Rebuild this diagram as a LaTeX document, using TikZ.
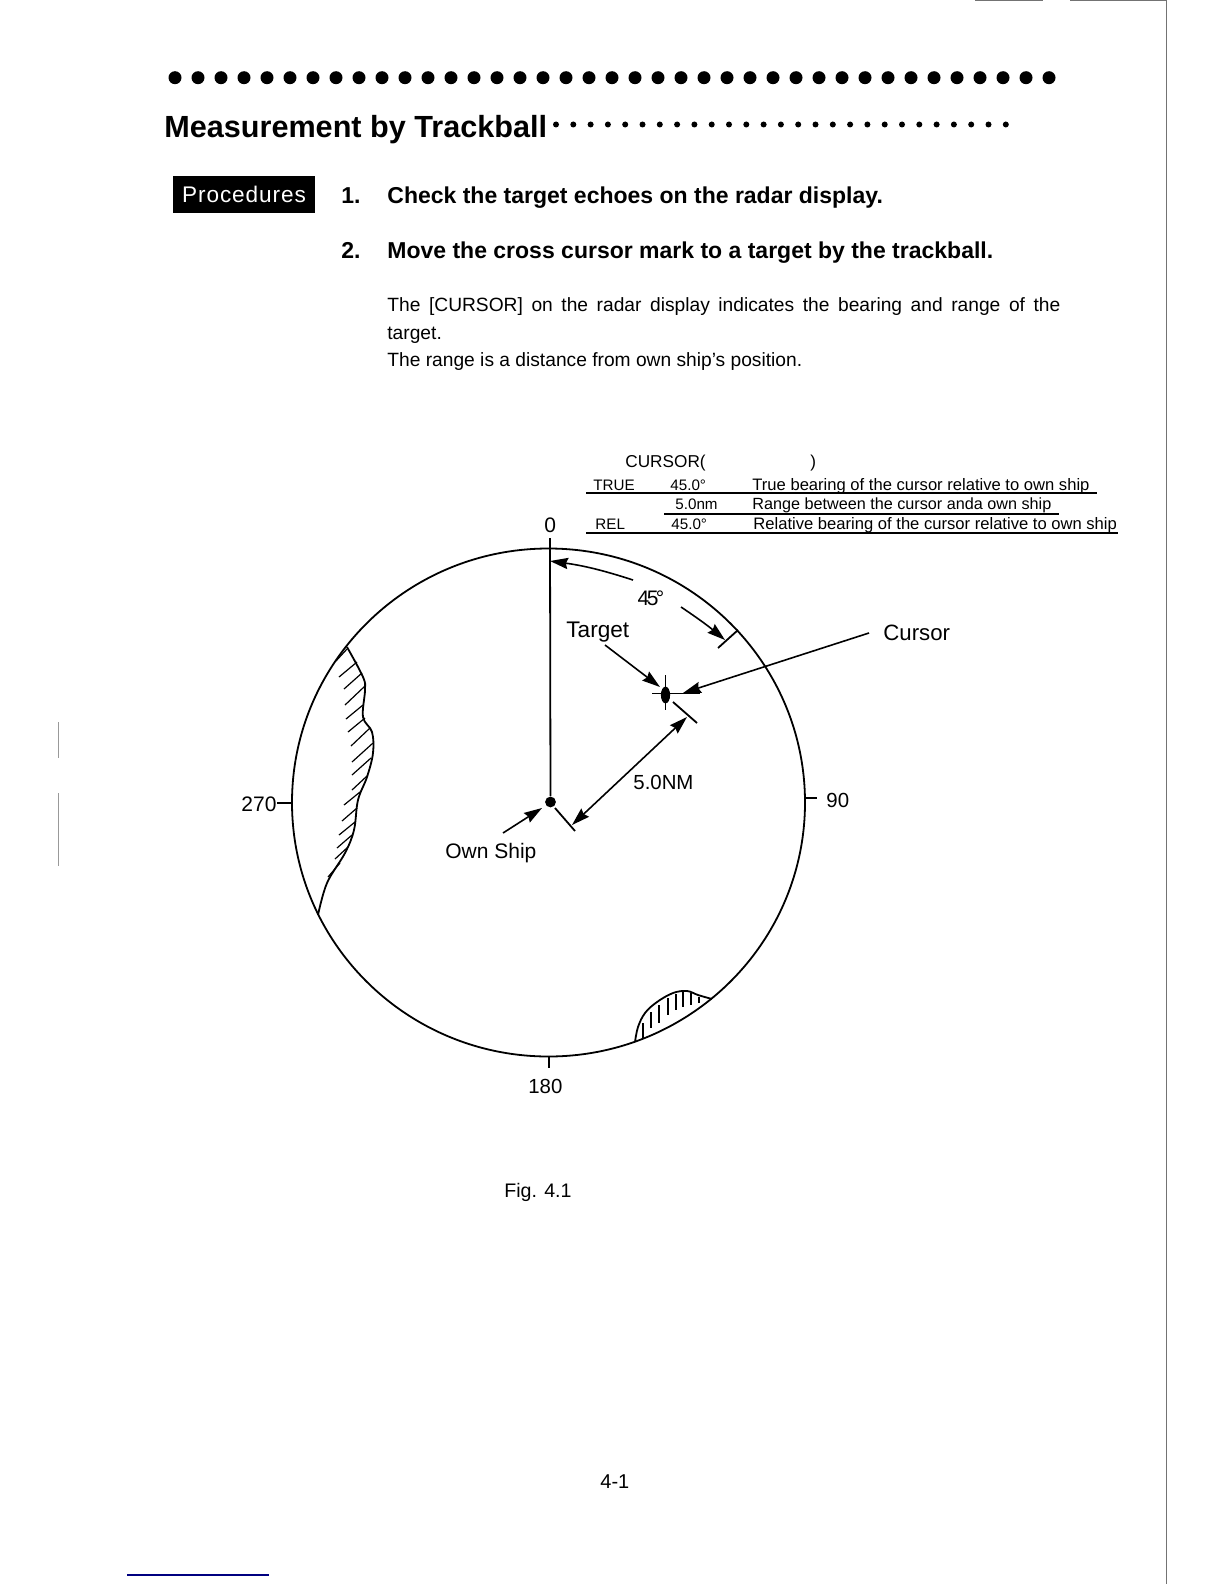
\documentclass[tikz,border=0pt]{standalone}
\usepackage{fontspec}
\setmainfont{Liberation Sans}
\newfontfamily\tightfont[LetterSpace=-12]{Liberation Sans}
\newfontfamily\widefont[LetterSpace=4]{Liberation Sans}
\usetikzlibrary{arrows.meta, positioning, shapes.geometric}
\newcommand{\fsz}[1]{\fontsize{#1}{#1}\selectfont}

\begin{document}
\begin{tikzpicture}[
    x=0.5pt, y=-0.5pt,
    txt/.style     = {inner sep=0pt, anchor=base west, font=\fsz{10.5}},
    tbltxt/.style  = {inner sep=0pt, anchor=base west, font=\fsz{8.3}},
    tblval/.style  = {inner sep=0pt, anchor=base west, font=\fsz{7.6}},
    steptxt/.style = {inner sep=0pt, anchor=base west, font=\fsz{11.5}\bfseries},
    line/.style    = {line width=0.9pt},
    rule/.style    = {line width=0.8pt},
    edge/.style    = {line width=0.5pt, black!55},
    hatch/.style   = {line width=0.6pt},
    arr/.style     = {line width=0.8pt, -{Stealth[length=9pt, width=5.6pt, inset=1pt]}},
    dbl/.style     = {line width=0.8pt, {Stealth[length=9pt, width=5.6pt, inset=1pt]}-{Stealth[length=9pt, width=5.6pt, inset=1pt]}},
]
\fill[white, use as bounding box] (0,0) rectangle (1224,1584);

%% ---- Page edges ----
\draw[edge] (1166.5,0) -- (1166.5,1584);
\draw[edge] (975,0.5) -- (1043,0.5);
\draw[edge] (1070,0.5) -- (1166.5,0.5);
\draw[edge, black!40] (58,722) -- (58,758);
\draw[edge, black!40] (58,793) -- (58,866);
\draw[rule, blue!50!black] (127,1575) -- (269,1575);

%% ---- Heading ----
\foreach \i in {0,...,38}
    \fill ({175+\i*23.0},77.7) circle (3.25pt);
\node[txt, font=\fsz{15.3}\bfseries] (title) at (164,137) {Measurement by Trackball};
\foreach \i in {0,...,26}
    \fill ({556+\i*17.3},124.5) circle (1.5pt);

%% ---- Procedures ----
\node[fill=black, text=white, font=\widefont\fsz{11.3}, minimum width=71pt, minimum height=18.5pt,
      inner sep=0pt] (proc) at (244,194.5) {Procedures};
\node[steptxt] (numa) at (341,203) {1.};
\node[steptxt] (stepa) at (387,203) {Check the target echoes on the radar display.};
\node[steptxt] (numb) at (341,258) {2.};
\node[steptxt] (stepb) at (387,258) {Move the cross cursor mark to a target by the trackball.};
\node[inner sep=0pt, anchor=north west, text width=336.5pt, align=justify,
      font=\fontsize{9.6}{13.9}\selectfont]
    (body) at (387,297) {\makebox[\linewidth][s]{The [CURSOR] on the radar display indicates the bearing and range of the}\\
    target.\\
    The range is a distance from own ship's position.};

%% ---- Cursor table ----
\node[tblval, font=\fsz{8.6}] (cur) at (625,467) {CURSOR(};
\node[tblval, font=\fsz{8.6}] (curend) at (810,467) {)};
\node[tblval] (rowa) at (593,490) {TRUE};
\node[tblval] (vala) at (670,490) {45.0°};
\node[tbltxt] (texta) at (752,490) {True bearing of the cursor relative to own ship};
\node[tblval] (valb) at (675,509) {5.0nm};
\node[tbltxt, font=\fsz{8.1}] (textb) at (752,509) {Range between the cursor anda own ship};
\node[tblval] (rowc) at (595,529) {REL};
\node[tblval] (valc) at (671,529) {45.0°};
\node[tbltxt] (textc) at (753,529) {Relative bearing of the cursor relative to own ship};
\draw[rule] (586,492.7) -- (1097,492.7);
\draw[rule] (664,514) -- (1059,514);
\draw[rule] (586,533) -- (1118,533);

%% ---- Radar display ----
\node[ellipse, draw, line, minimum width=256.5pt, minimum height=254pt, inner sep=0pt] (scope) at (548.5,802.5) {};
\node[circle, fill=black, minimum size=5.4pt, inner sep=0pt] (own) at (550.5,802) {};
\node[ellipse, fill=black, minimum width=4.6pt, minimum height=8.4pt, inner sep=0pt] (target) at (665.5,695) {};
\coordinate (zero) at (550,538);
\draw[line] (own) -- (zero);
\draw[line] (277,803) -- (291,803);
\draw[line] (805,798) -- (817,798);
\draw[line] (549,1057) -- (549,1068);

%% ---- Bearing and range scale labels ----
\node[txt] (north) at (544,532) {0};
\node[txt, font=\fsz{10.2}] (east) at (826,807) {90};
\node[txt, font=\fsz{10.2}] (south) at (528,1093) {180};
\node[txt] (west) at (241,811) {270};

%% ---- Target mark ----
\draw[line] (665.5,675) -- (665.5,710);
\draw[line] (652,693.5) -- (700,693.5);

%% ---- Bearing arrows ----
\coordinate (arca) at (633,580);
\coordinate (arctip) at (550,561);
\coordinate (arcb) at (681,607);
\coordinate (arcend) at (725,640);
\draw[arr] (arca) to[bend right=5] (arctip);
\draw[arr] (arcb) to[bend left=3] (arcend);
\draw[line] (718,648) -- (738,630);
\node[inner sep=0pt, font=\tightfont\fsz{10.5}] (angle) at (651,598) {45°};

%% ---- Target and cursor arrows ----
\node[txt, font=\fsz{11.3}] (targetlbl) at (566,637) {Target};
\coordinate (targetfrom) at (605,645);
\draw[arr] (targetfrom) -- (660,687);
\node[txt, font=\fsz{11.1}] (cursorlbl) at (883,640) {Cursor};
\coordinate (cursorfrom) at (869,633);
\draw[arr] (cursorfrom) -- (683,693);

%% ---- Range arrow ----
\coordinate (rangea) at (572,825);
\coordinate (rangeb) at (687,717);
\draw[dbl] (rangea) -- (rangeb);
\draw[line] (673,702) -- (697,723);
\draw[line] (555,808) -- (575,831);
\node[txt, font=\fsz{10.2}] (range) at (633,789) {5.0NM};

%% ---- Own ship ----
\node[txt] (ownlbl) at (445,858) {Own Ship};
\coordinate (ownfrom) at (503,833);
\draw[arr] (ownfrom) -- (542,808);

%% ---- Land echoes ----
\draw[line] plot[smooth, tension=0.6] coordinates {(347,647) (363,677) (365,690) (363,717) (372,732)
    (373,753) (367,777) (358,800) (354,830) (345,853) (327,883) (318,915)};
\foreach \xa/\ya/\xb/\yb in {336/661/347/649, 339/677/357/662, 344/689/362/673, 345/705/365/686,
    346/719/363/705, 348/732/365/718, 351/746/370/728, 352/762/373/743, 352/775/371/758,
    352/790/367/776, 344/805/360/792, 342/821/357/808, 339/835/355/822, 337/848/352/835,
    335/859/348/847, 328/877/340/863}
    \draw[hatch] (\xa,\ya) -- (\xb,\yb);

\draw[line] plot[smooth, tension=0.6] coordinates {(635,1042) (638,1027) (645,1013) (657,1002)
    (673,993) (687,991) (698,995) (712,999)};
\foreach \xa/\ya/\yb in {643/1023/1039, 651/1012/1028, 659/1005/1023, 668/998/1015,
    676/994/1010, 683/992/1007, 691/993/1005, 699/997/1003}
    \draw[hatch] (\xa,\ya) -- (\xa,\yb);

%% ---- Caption and page number ----
\node[txt, font=\fsz{9.8}] (fig) at (504,1197) {Fig. 4.1};
\node[txt, font=\fsz{10}] (page) at (600,1488) {4-1};

\end{tikzpicture}
\end{document}
